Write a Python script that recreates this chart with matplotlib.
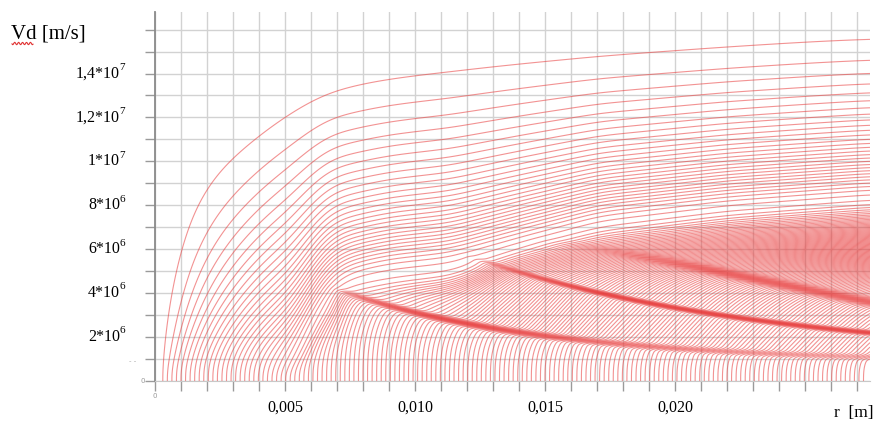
import numpy as np
import matplotlib
matplotlib.use("Agg")
import matplotlib.pyplot as plt
from matplotlib import transforms
from matplotlib.lines import Line2D

plt.rcParams['font.family'] = ['Liberation Serif', 'DejaVu Serif']

# working units: r in mm, v in 1e6 m/s (scaled to m and m/s when drawn)
R_MAX = 27.5
V_MAX = 16.8

# curve starts on the r axis: first, step between neighbours, last
start_first = 0.3
start_step = 0.175
start_last = 27.3
top_label = 0.27

# top envelope of the curve family (read just above the top curve)
top_r = [0.25, 0.5, 0.77, 1.46, 2.56, 4.04, 5.33, 7.5, 11.35, 17.1, 27.5]
top_v = [0.0, 4.2, 6.0, 8.8, 10.6, 11.9, 13.1, 14.1, 14.7, 15.3, 16.1]

# curves that start before this r form the smooth upper family
upper_end = 5.2

# bundles: r [mm], v [1e6 m/s]
c1_r = [6.7, 7.5, 11.35, 15.2, 17.1, 27.5]
c1_v = [4.2, 4.05, 2.86, 2.0, 1.77, 1.1]
c2_r = [12.5, 13.9, 17.1, 21.8, 27.5]
c2_v = [5.5, 5.05, 4.0, 3.0, 2.2]
c3_r = [17.1, 21.8, 27.5]
c3_v = [6.0, 4.95, 3.6]
band_width = [0.09, 0.07, 0.14]

# per-column read values (columns at r_cols)
r_cols = [5.2, 6.0, 6.8, 7.5, 9.0, 11.35, 14.0, 17.1, 22.0, 27.5]
upper_floor = [0.0, 2.0, 3.7, 4.3, 4.7, 5.0, 5.9, 6.9, 7.6, 8.1]  # lower edge of upper family
band1 = [0.0, 0.0, 0.2, 0.6, 1.5, 2.0, 1.6, 1.2, 0.8, 0.5]       # curves held in each bundle [mm]
band2 = [0.0, 0.0, 0.0, 0.0, 0.0, 0.0, 0.8, 2.0, 2.2, 2.0]
band3 = [0.0, 0.0, 0.0, 0.0, 0.0, 0.0, 0.0, 0.3, 2.0, 2.0]
pink_amt = [0.0, 0.0, 0.0, 0.0, 0.2, 1.0, 2.0, 4.0, 8.0, 13.0]    # dense region above the bundles
pink_mid = [4.2, 4.2, 4.2, 4.2, 4.3, 4.3, 5.5, 5.9, 6.1, 6.0]
pink_sd = [0.3, 0.3, 0.3, 0.3, 0.3, 0.4, 0.6, 0.9, 1.2, 1.4]
hatch_density = 0.85

r = np.linspace(top_label, R_MAX, 1700)
v = np.linspace(0, V_MAX, 1500)
dv = v[1] - v[0]
dr = r[1] - r[0]
RR, VV = np.meshgrid(r, v)


def smooth(y, width, step_size=dr):
    n = int(3 * width / step_size)
    k = np.exp(-0.5 * (np.arange(-n, n + 1) * step_size / width) ** 2)
    k /= k.sum()
    yp = np.concatenate([np.full(n, y[0]), y, np.full(n, y[-1])])
    return np.convolve(yp, k, mode='valid')


def col(tab, width=0.5):
    return smooth(np.interp(r, r_cols, tab), width)[None, :]


def step(x):
    return 0.5 * (1 + np.tanh(x))


def gauss(x, s):
    return np.exp(-0.5 * (x / s) ** 2) / (s * np.sqrt(2 * np.pi))


# top envelope, smoothed along sqrt(r) so the steep start keeps its shape
s_pts = np.sqrt(np.array(top_r) - top_r[0])
s_grid = np.linspace(0, s_pts[-1], 2000)
t_s = smooth(np.interp(s_grid, s_pts, top_v), 0.22, s_grid[1] - s_grid[0])
t_s[0] = 0.0
T = np.interp(np.sqrt(np.maximum(r - top_r[0], 0)), s_grid, t_s)[None, :]

# upper family density
floor = col(upper_floor)
a = np.where(r < 5.2, 0.15 * T[0], np.interp(r, [5.2, 7.5], [0.15 * 13.0, 0.8]))
a = smooth(np.maximum(a, 0.05), 0.5)[None, :]
x = np.clip(VV - floor, 0, None) / a
span = np.maximum(T - floor, 1e-3)
gU = x ** 2 / (1 + x ** 2) * np.clip(T - VV, 0, None) ** 0.75 \
    * (1 + 2.0 * np.clip((T - VV) / span, 0, 1) ** 3)
k_soft = 0.5
share = -k_soft * np.logaddexp(-r / k_soft, -upper_end / k_soft)
amtU = share - top_label
gU *= (amtU / np.maximum(gU.sum(0) * dv, 1e-12))[None, :]

# later curves: vertical part, hatched part, bundles and dense region
fits = [np.polyfit(br, np.log(bv), 2) for br, bv in
        [(c1_r, c1_v), (c2_r, c2_v), (c3_r, c3_v)]]
cs = [np.exp(np.polyval(f, r))[None, :] for f in fits]
c1 = cs[0]
turn = step((VV - 0.9 * c1) / (0.05 * c1 + 0.04))
gN = 0.5 * (VV / c1) ** 2 * (1 - turn) + hatch_density * turn
for ck, amt, w in zip(cs, [band1, band2, band3], band_width):
    gN = gN + col(amt) * gauss(VV - ck, w)
gN = gN + col(pink_amt) * gauss(VV - col(pink_mid), col(pink_sd))
gN *= 1 - step((VV - floor) / 0.5)
amtN = r - share
gN *= (amtN / np.maximum(gN.sum(0) * dv, 1e-12))[None, :]

S = RR - np.cumsum(gU + gN, axis=0) * dv

starts = np.arange(start_first, start_last + 1e-9, start_step)

fig = plt.figure(figsize=(8.77, 4.24), dpi=100)
L, R, B, Tp = 155 / 877, 870 / 877, 1 - 381 / 424, 1 - 12 / 424
ax = fig.add_axes([L, B, R - L, Tp - B])

ax.contour(RR * 1e-3, VV * 1e6, S, levels=starts, colors=['#e83a3a'],
           linewidths=0.8, alpha=0.55, zorder=3)

ax.set_xlim(0, R_MAX * 1e-3)
ax.set_ylim(0, V_MAX * 1e6)
ax.set_xticks(np.arange(0, 27.01, 1.0) * 1e-3)
ax.set_yticks(np.arange(0, 16.01, 1.0) * 1e6)
ax.grid(True, color='#d2d2d2', lw=1.0)
ax.set_axisbelow(True)
ax.tick_params(axis='both', direction='out', length=7, color='#9a9a9a', width=1.0)
ax.set_xticklabels([])
ax.set_yticklabels([])
for s in ('top', 'right'):
    ax.spines[s].set_visible(False)
ax.spines['left'].set_color('#8a8a8a')
ax.spines['left'].set_linewidth(1.3)
ax.spines['bottom'].set_color('#c8c8c8')

# y tick labels: mantissa and power of ten
y_vals = [2e6, 4e6, 6e6, 8e6, 1e7, 1.2e7, 1.4e7]
y_mant = ['2*10', '4*10', '6*10', '8*10', '1*10', '1,2*10', '1,4*10']
y_pow = ['6', '6', '6', '6', '7', '7', '7']
yt = transforms.blended_transform_factory(fig.transFigure, ax.transData)
for val, m, p in zip(y_vals, y_mant, y_pow):
    ax.text(120 / 877, val, m, transform=yt, ha='right', va='center', fontsize=11.5)
    ax.text(119.5 / 877, val + 0.28e6, p, transform=yt, ha='left', va='center', fontsize=8)

xt = transforms.blended_transform_factory(ax.transData, fig.transFigure)
for val, lab in zip([0.005, 0.010, 0.015, 0.020], ['0,005', '0,010', '0,015', '0,020']):
    ax.text(val, 1 - 408 / 424, lab, transform=xt, ha='center', va='center', fontsize=11.5)

fig.text(1 - 3 / 877, 1 - 413 / 424, 'r  [m]', ha='right', va='center', fontsize=12.5)
fig.text(11 / 877, 1 - 34 / 424, 'Vd [m/s]', ha='left', va='center', fontsize=15)
# spell-check squiggle under "Vd"
sx = np.linspace(12, 33, 32)
sy = 43.5 + 1.2 * np.sin(sx * 1.6)
fig.add_artist(Line2D(sx / 877, 1 - sy / 424, color='#e03030', lw=0.8))

fig.text(143 / 877, 1 - 381 / 424, '0', ha='center', va='center', fontsize=5, color='#999999',
         family='DejaVu Sans')
fig.text(155 / 877, 1 - 396 / 424, '0', ha='center', va='center', fontsize=5, color='#999999',
         family='DejaVu Sans')
fig.text(133 / 877, 1 - 361 / 424, '- -', ha='center', va='center', fontsize=5, color='#aaaaaa',
         family='DejaVu Sans')

fig.savefig('out.png', dpi=100)
